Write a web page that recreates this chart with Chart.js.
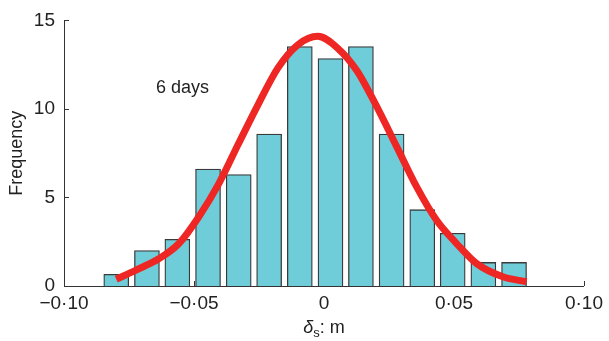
<!DOCTYPE html>
<html>
<head>
<meta charset="utf-8">
<script src="https://cdn.jsdelivr.net/npm/chart.js@4.4.1/dist/chart.umd.min.js"></script>
<style>
  html, body { margin: 0; padding: 0; background: #fff; }
</style>
</head>
<body>
<canvas id="chart" width="609" height="341"></canvas>
<script>
// histogram bins (centre, m) and counts
const binCentres = [-0.0799, -0.0681, -0.0564, -0.0446, -0.0328, -0.0211, -0.0093,
                    0.0025, 0.0142, 0.0260, 0.0378, 0.0495, 0.0613, 0.0731];
const frequencies = [0.66, 2.0, 2.64, 6.6, 6.29, 8.58, 13.52,
                     12.85, 13.52, 8.58, 4.31, 2.98, 1.33, 1.33];

// fitted normal curve
const fitX = [-0.0799, -0.0723, -0.0634, -0.0558, -0.0482, -0.0405, -0.0329, -0.0253,
              -0.0177, -0.0100, -0.0024, 0.0052, 0.0128, 0.0205, 0.0281, 0.0357,
              0.0433, 0.0510, 0.0586, 0.0688, 0.0779];
const fitY = [0.38, 0.90, 1.55, 2.40, 3.90, 5.77, 8.03, 10.26,
              12.32, 13.63, 14.10, 13.44, 12.13, 10.07, 7.83, 5.58,
              3.71, 2.40, 1.28, 0.52, 0.24];

const xTicks = [-0.10, -0.05, 0, 0.05, 0.10];
const xTickLabels = ['\u22120\u00b710', '\u22120\u00b705', '0', '0\u00b705', '0\u00b710'];
const yTicks = [0, 5, 10, 15];
const panelLabel = '6 days';

const FONT = '"Liberation Sans", Arial, sans-serif';
const INK = '#222';

// inward ticks + annotation text
const decorations = {
    id: 'decorations',
    beforeDatasetsDraw(chart) {
        const { ctx, scales: { x, y } } = chart;
        ctx.save();
        ctx.strokeStyle = '#333';
        ctx.lineWidth = 1;
        ctx.beginPath();
        xTicks.forEach(v => {
            const px = Math.round(x.getPixelForValue(v)) + 0.5;
            ctx.moveTo(px, y.bottom);
            ctx.lineTo(px, y.bottom - 5);
        });
        yTicks.forEach(v => {
            const py = Math.round(y.getPixelForValue(v)) + 0.5;
            ctx.moveTo(x.left, py);
            ctx.lineTo(x.left + 5, py);
        });
        ctx.stroke();
        ctx.restore();
    },
    afterDraw(chart) {
        const { ctx, scales: { x, y } } = chart;
        ctx.save();
        ctx.fillStyle = INK;
        ctx.textBaseline = 'middle';

        // panel label
        ctx.font = '18px ' + FONT;
        ctx.textAlign = 'left';
        ctx.fillText(panelLabel, 156, y.getPixelForValue(11.2));

        // y title
        ctx.save();
        ctx.translate(17, (y.top + y.bottom) / 2);
        ctx.rotate(-Math.PI / 2);
        ctx.textAlign = 'center';
        ctx.fillText('Frequency', 0, 0);
        ctx.restore();

        // x title: delta_s: m
        const base = 333;
        ctx.textBaseline = 'alphabetic';
        ctx.textAlign = 'left';
        ctx.font = 'italic 18px ' + FONT;
        const dW = ctx.measureText('\u03b4').width;
        ctx.font = '13px ' + FONT;
        const sW = ctx.measureText('s').width;
        ctx.font = '18px ' + FONT;
        const rW = ctx.measureText(': m').width;
        let cx = x.getPixelForValue(0) - (dW + sW + rW) / 2;
        ctx.font = 'italic 18px ' + FONT;
        ctx.fillText('\u03b4', cx, base);
        cx += dW;
        ctx.font = '13px ' + FONT;
        ctx.fillText('s', cx, base + 4);
        cx += sW;
        ctx.font = '18px ' + FONT;
        ctx.fillText(': m', cx, base);
        ctx.restore();
    }
};

new Chart(document.getElementById('chart'), {
    type: 'bar',
    data: {
        datasets: [
            {
                type: 'line',
                label: 'Normal fit',
                data: fitX.map((v, i) => ({ x: v, y: fitY[i] })),
                borderColor: '#ee2724',
                borderWidth: 7,
                pointRadius: 0,
                cubicInterpolationMode: 'monotone',
                fill: false,
                order: 0
            },
            {
                label: 'Frequency',
                data: binCentres.map((v, i) => ({ x: v, y: frequencies[i] })),
                backgroundColor: '#6fcdd9',
                borderColor: '#3a3a3a',
                borderWidth: 1.3,
                barThickness: 25,
                order: 1
            }
        ]
    },
    options: {
        responsive: false,
        animation: false,
        layout: { padding: { top: 19, right: 20, left: 0, bottom: 0 } },
        plugins: {
            legend: { display: false },
            tooltip: { enabled: false }
        },
        scales: {
            x: {
                type: 'linear',
                offset: false,
                min: -0.10,
                max: 0.10,
                afterBuildTicks: s => { s.ticks = xTicks.map(v => ({ value: v })); },
                afterFit: s => { s.height = 55; },
                grid: { display: false, drawTicks: false, offset: false },
                border: { display: true, color: '#333', width: 1 },
                ticks: {
                    color: INK,
                    padding: 6,
                    maxRotation: 0,
                    font: { family: FONT, size: 19 },
                    callback: (v, i) => xTickLabels[i]
                }
            },
            y: {
                min: 0,
                max: 15,
                afterBuildTicks: s => { s.ticks = yTicks.map(v => ({ value: v })); },
                afterFit: s => { s.width = 64; },
                grid: { display: false, drawTicks: false },
                border: { display: true, color: '#333', width: 1 },
                ticks: {
                    color: INK,
                    padding: 9,
                    font: { family: FONT, size: 19 }
                }
            }
        }
    },
    plugins: [decorations]
});
</script>
</body>
</html>
